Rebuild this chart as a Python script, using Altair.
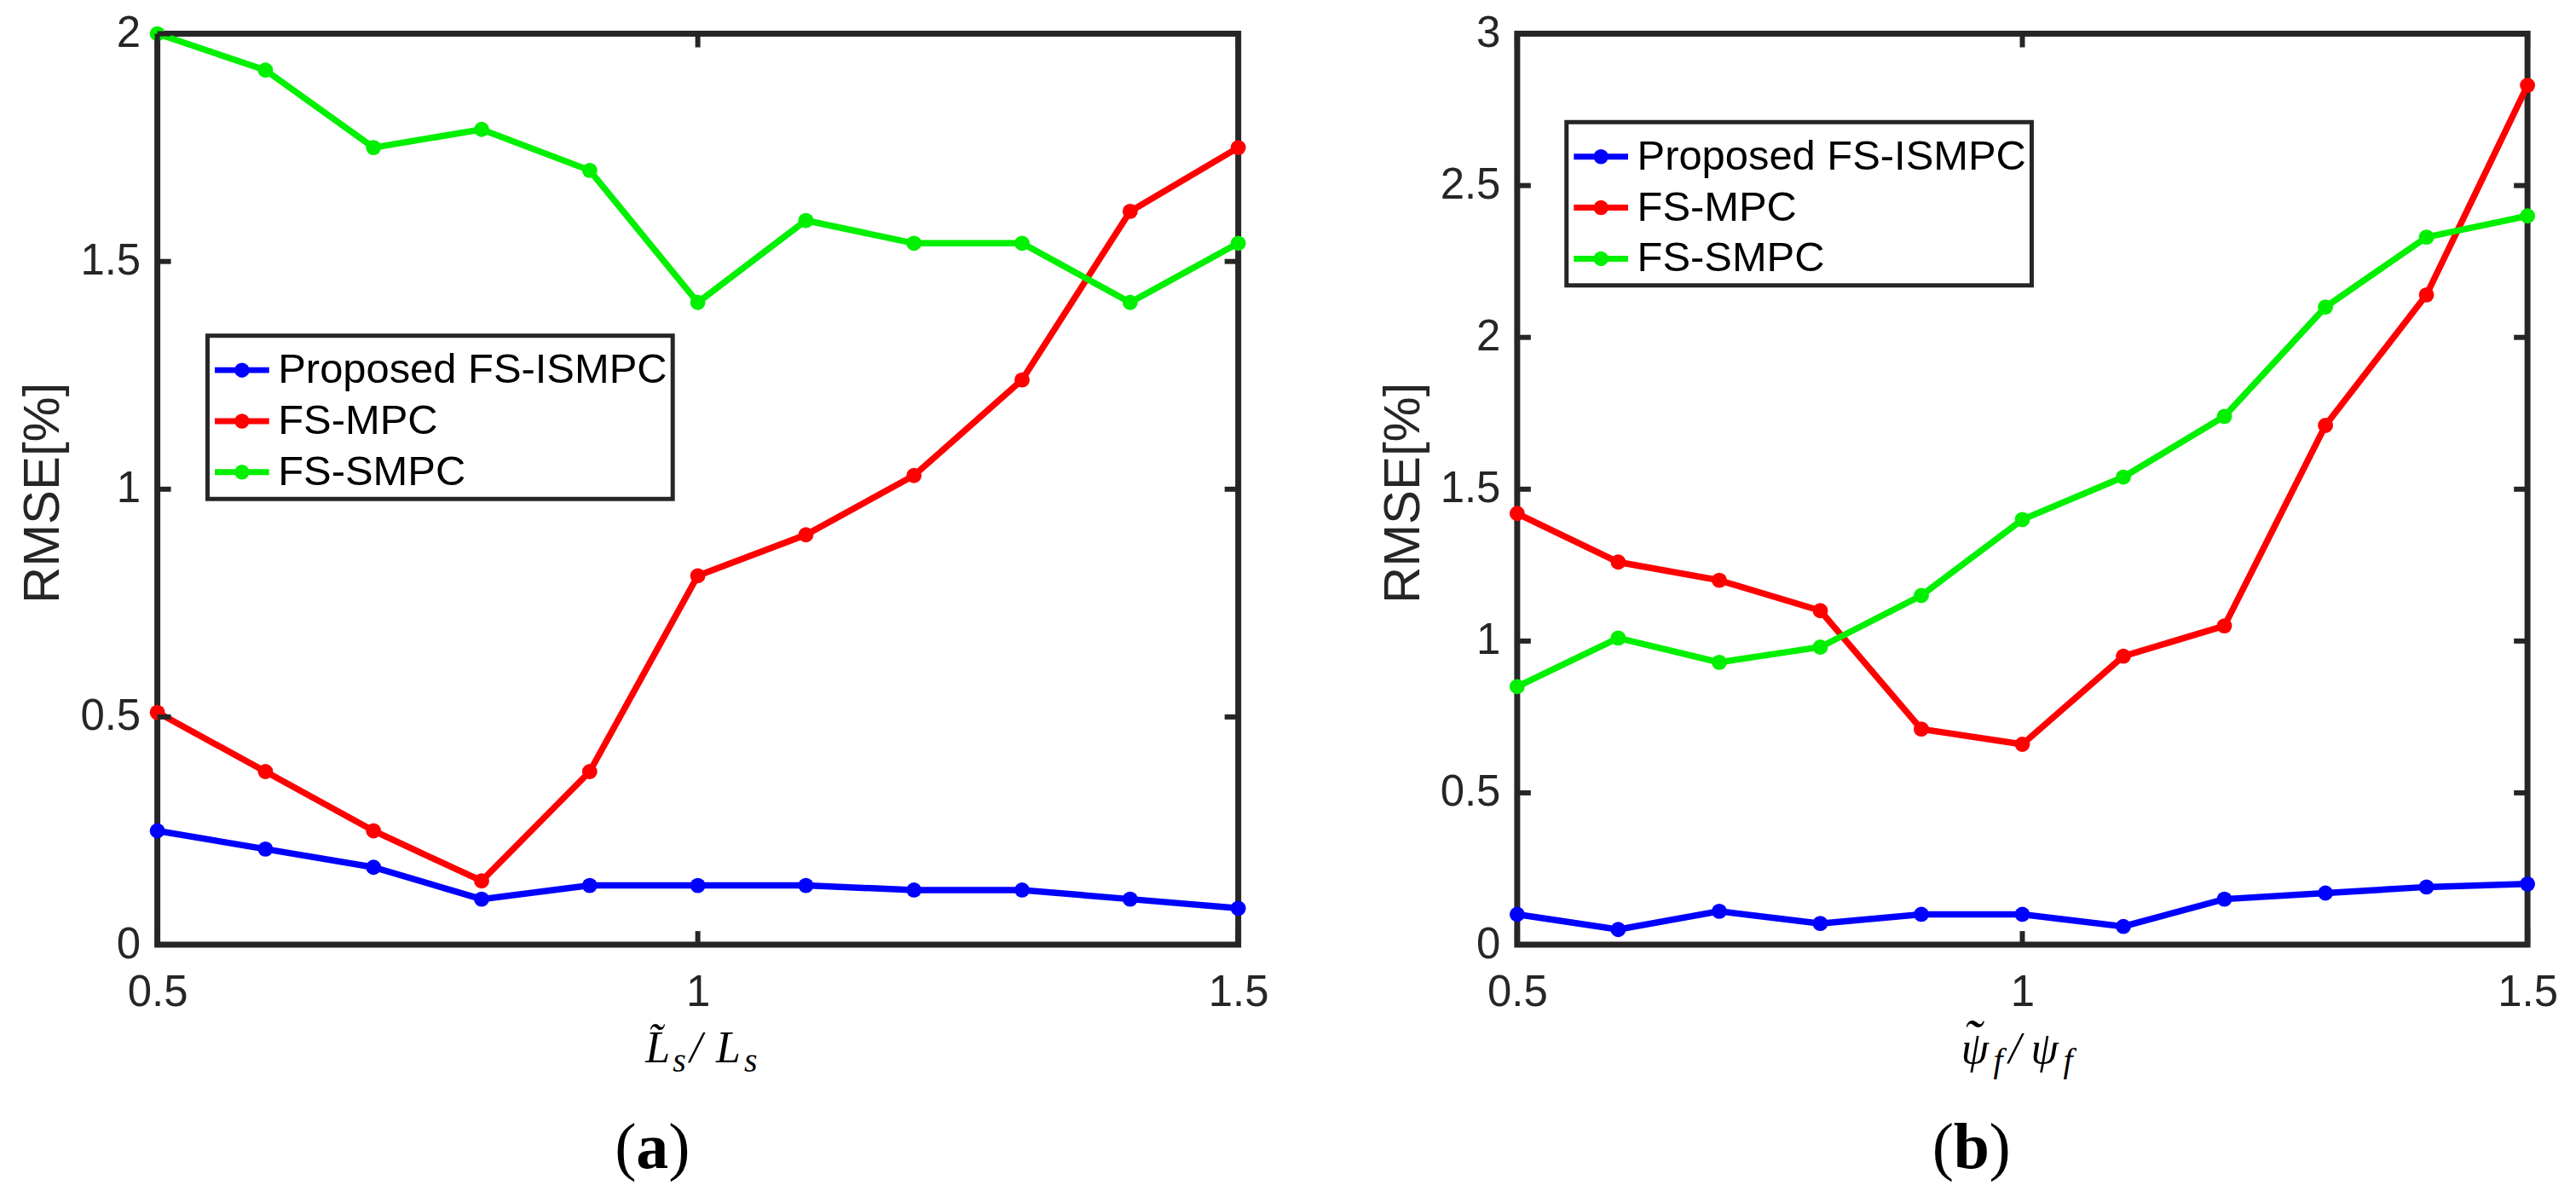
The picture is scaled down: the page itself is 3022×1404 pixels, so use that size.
import altair as alt
import pandas as pd

# ---------------- data ----------------
x_vals = [0.5, 0.6, 0.7, 0.8, 0.9, 1.0, 1.1, 1.2, 1.3, 1.4, 1.5]

a_proposed = [0.25, 0.21, 0.17, 0.10, 0.13, 0.13, 0.13, 0.12, 0.12, 0.10, 0.08]
a_mpc = [0.51, 0.38, 0.25, 0.14, 0.38, 0.81, 0.90, 1.03, 1.24, 1.61, 1.75]
a_smpc = [2.00, 1.92, 1.75, 1.79, 1.70, 1.41, 1.59, 1.54, 1.54, 1.41, 1.54]

b_proposed = [0.10, 0.05, 0.11, 0.07, 0.10, 0.10, 0.06, 0.15, 0.17, 0.19, 0.20]
b_mpc = [1.42, 1.26, 1.20, 1.10, 0.71, 0.66, 0.95, 1.05, 1.71, 2.14, 2.83]
b_smpc = [0.85, 1.01, 0.93, 0.98, 1.15, 1.40, 1.54, 1.74, 2.10, 2.33, 2.40]

series_names = ["Proposed FS-ISMPC", "FS-MPC", "FS-SMPC"]
series_colors = ["#0000FF", "#FF0000", "#00F000"]

x_ticks = [0.5, 1, 1.5]
a_y_ticks = [0, 0.5, 1, 1.5, 2]
b_y_ticks = [0, 0.5, 1, 1.5, 2, 2.5, 3]

y_title = "RMSE[%]"

AX = "#262626"
TICK_LEN = 16
SYMBOL_PATH = ("M-1.03,0L1.03,0"
               "M-0.17,0A0.17,0.17,0,1,0,0.17,0A0.17,0.17,0,1,0,-0.17,0"
               "M-0.05,0A0.05,0.05,0,1,0,0.05,0A0.05,0.05,0,1,0,-0.05,0")

one = pd.DataFrame({"k": [0]})


def long_df(series):
    rows = []
    for name, vals in zip(series_names, series):
        for xv, yv in zip(x_vals, vals):
            rows.append({"x": xv, "y": yv, "series": name})
    return pd.DataFrame(rows)


def txt(s, x, y, size, style="italic", weight="normal", align="left",
        font="Liberation Serif"):
    return alt.Chart(one).mark_text(
        text=s, font=font, fontSize=size, fontStyle=style, fontWeight=weight,
        align=align, baseline="alphabetic", color="black"
    ).encode(x=alt.value(x), y=alt.value(y))


def panel(series, yticks, ymax, W, H, legend_xy, title_parts, cap_parts):
    xs = alt.Scale(domain=[0.5, 1.5], nice=False, zero=False)
    ys = alt.Scale(domain=[0, ymax], nice=False, zero=False)
    x_axis = alt.Axis(values=x_ticks, title=None, ticks=False, tickSize=0,
                      domain=False, grid=False, labelFontSize=51,
                      labelFont="Liberation Sans", labelColor=AX,
                      labelPadding=32, labelFlush=False, format="~g")
    y_axis = alt.Axis(values=yticks, title=y_title, ticks=False, tickSize=0,
                      domain=False, grid=False, labelFontSize=51,
                      labelFont="Liberation Sans", labelColor=AX,
                      labelPadding=20, labelFlush=False, format="~g",
                      titleFont="Liberation Sans", titleFontSize=60,
                      titleFontWeight="normal", titleColor=AX,
                      titleAngle=270, titleX=-134, titleY=H / 2 + 4,
                      titleBaseline="middle", titleAlign="center")

    def X():
        return alt.X("x:Q", scale=xs, axis=x_axis)

    def Y():
        return alt.Y("y:Q", scale=ys, axis=y_axis)

    lines = alt.Chart(long_df(series)).mark_line(
        strokeWidth=7.5,
        point=alt.OverlayMarkDef(filled=True, size=320, opacity=1),
    ).encode(
        x=X(), y=Y(),
        color=alt.Color(
            "series:N",
            scale=alt.Scale(domain=series_names, range=series_colors),
            legend=alt.Legend(
                title=None, orient="none",
                legendX=legend_xy[0], legendY=legend_xy[1],
                direction="vertical",
                symbolType=SYMBOL_PATH, symbolSize=3844,
                symbolStrokeWidth=7, symbolOpacity=1,
                labelFont="Liberation Sans", labelFontSize=49,
                labelColor="black", labelOffset=8, labelLimit=0,
                padding=6, rowPadding=0,
                strokeColor=AX, fillColor="white",
            ),
        ),
    )

    xt = pd.DataFrame({"x": x_ticks})
    yt = pd.DataFrame({"y": yticks})
    rule = dict(color=AX, strokeWidth=6)
    t_bottom = alt.Chart(xt).mark_rule(**rule).encode(
        x=X(), y=alt.value(H), y2=alt.value(H - TICK_LEN))
    t_top = alt.Chart(xt).mark_rule(**rule).encode(
        x=X(), y=alt.value(0), y2=alt.value(TICK_LEN))
    t_left = alt.Chart(yt).mark_rule(**rule).encode(
        y=Y(), x=alt.value(0), x2=alt.value(TICK_LEN))
    t_right = alt.Chart(yt).mark_rule(**rule).encode(
        y=Y(), x=alt.value(W - TICK_LEN), x2=alt.value(W))

    texts = [txt(s, x, y, size) for (s, x, y, size) in title_parts]
    caps = [txt(s, x, y, 76, style="normal", weight=w)
            for (s, x, y, w) in cap_parts]

    return alt.layer(lines, t_bottom, t_top, t_left, t_right, *texts, *caps
                     ).properties(width=W, height=H)


W1, W2, H = 1271, 1188, 1071

left = panel(
    [a_proposed, a_mpc, a_smpc], a_y_ticks, 2, W1, H, (59, 355),
    [("L\u0303", 574, 1209, 52), ("s", 606, 1220, 40), ("/", 626, 1209, 52),
     ("L", 657, 1209, 52), ("s", 690, 1220, 40)],
    [("(", 538, 1334, "normal"), ("a", 563, 1334, "bold"),
     (")", 601, 1334, "normal")],
)

right = panel(
    [b_proposed, b_mpc, b_smpc], b_y_ticks, 3, W2, H, (58, 104),
    [("\u02dc", 524, 1203, 64), ("\u03c8", 522, 1210, 52), ("f", 560, 1220, 40),
     ("/", 578, 1210, 52), ("\u03c8", 604, 1210, 52), ("f", 642, 1220, 40)],
    [("(", 488, 1334, "normal"), ("b", 513, 1334, "bold"),
     (")", 555, 1334, "normal")],
)

chart = alt.hconcat(left, right, spacing=328, bounds="flush").resolve_scale(
    color="independent"
).resolve_legend(
    color="independent"
).properties(
    padding={"left": 9, "top": 0, "right": 10, "bottom": 10},
    background="white",
).configure_view(
    stroke=AX, strokeWidth=7
).configure_legend(
    strokeWidth=5
)

chart.save("out.html", embed_options={"renderer": "svg", "actions": False})
